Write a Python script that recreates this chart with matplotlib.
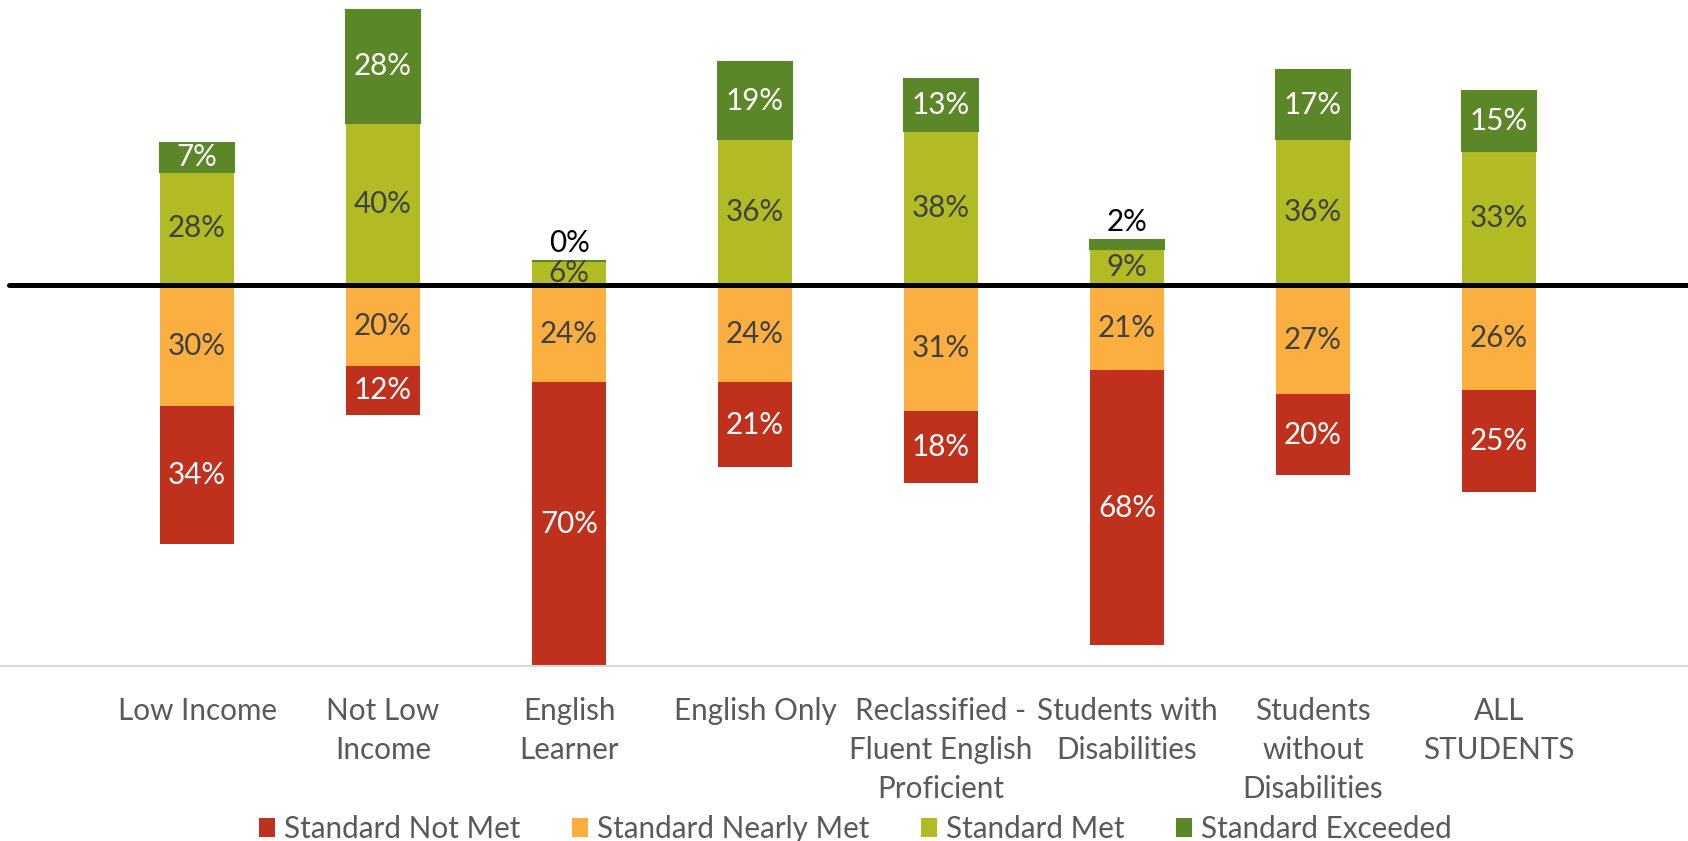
import numpy as np
import matplotlib
matplotlib.use('Agg')
import matplotlib.pyplot as plt
from matplotlib.patches import Patch

plt.rcParams['font.family'] = ['Lato', 'DejaVu Sans']

grupos = ['Low Income', 'Not Low\nIncome', 'English\nLearner', 'English Only',
          'Reclassified -\nFluent English\nProficient', 'Students with\nDisabilities',
          'Students\nwithout\nDisabilities', 'ALL\nSTUDENTS']
no_cumple = [34, 12, 70, 21, 18, 68, 20, 25]
casi_cumple = [30, 20, 24, 24, 31, 21, 27, 26]
cumple = [28, 40, 6, 36, 38, 9, 36, 33]
excede = [7, 28, 0, 19, 13, 2, 17, 15]

nombres = ['Standard Not Met', 'Standard Nearly Met', 'Standard Met', 'Standard Exceeded']
colores = ['#C0311D', '#FBAF40', '#B2BB23', '#5C8728']
colores_texto = ['white', '#404040', '#404040', 'white']

x = np.arange(len(grupos))
ancho = 0.403
tam = 21.3

fig = plt.figure(figsize=(16.88, 8.41), dpi=100)
ax = fig.add_axes([0, 1 - 666 / 841, 1, 666 / 841])

no_cumple = np.array(no_cumple)
casi_cumple = np.array(casi_cumple)
cumple = np.array(cumple)
excede = np.array(excede)

# below the line: nearly met next to zero, not met further down
ax.bar(x, -casi_cumple, ancho, color=colores[1], zorder=2)
ax.bar(x, -no_cumple, ancho, bottom=-casi_cumple, color=colores[0], zorder=2)
# above the line: met, then exceeded on top
ax.bar(x, cumple, ancho, color=colores[2], zorder=2)
ax.bar(x, excede, ancho, bottom=cumple, color=colores[3], edgecolor=colores[3],
       linewidth=1.5, zorder=2)

for i in range(len(grupos)):
    ax.text(x[i], -casi_cumple[i] / 2, f'{casi_cumple[i]}%', ha='center', va='center',
            fontsize=tam, color=colores_texto[1], zorder=3)
    ax.text(x[i], -casi_cumple[i] - no_cumple[i] / 2, f'{no_cumple[i]}%', ha='center',
            va='center', fontsize=tam, color=colores_texto[0], zorder=3)
    ax.text(x[i], cumple[i] / 2, f'{cumple[i]}%', ha='center', va='center',
            fontsize=tam, color=colores_texto[2], zorder=3)
    if excede[i] >= 5:
        ax.text(x[i], cumple[i] + excede[i] / 2, f'{excede[i]}%', ha='center',
                va='center', fontsize=tam, color=colores_texto[3], zorder=3)
    else:
        ax.annotate(f'{excede[i]}%', (x[i], cumple[i] + excede[i]), xytext=(0, 3),
                    textcoords='offset points', ha='center', va='bottom',
                    fontsize=tam, color='black', zorder=3)

ax.axhline(0, xmin=9 / 1688, xmax=1, color='black', linewidth=3.6,
           solid_capstyle='round', zorder=4)

ax.set_xlim(-197 / 186, (1688 - 197) / 186)
ax.set_ylim(-94.1, 70.4)
ax.set_xticks(x)
ax.set_xticklabels(grupos, fontsize=tam, color='#595959', linespacing=1.48)
ax.tick_params(axis='x', length=0, pad=22)
ax.set_yticks([])
for lado in ['top', 'left', 'right']:
    ax.spines[lado].set_visible(False)
ax.spines['bottom'].set_color('#D9D9D9')
ax.spines['bottom'].set_linewidth(1.5)

manejadores = [Patch(facecolor=c) for c in colores]
fig.legend(manejadores, nombres, ncol=4, loc='center',
           bbox_to_anchor=(0.5066, 1 - 829 / 841), frameon=False, fontsize=tam,
           labelcolor='#595959', handlelength=0.55, handleheight=0.65,
           handletextpad=0.29, columnspacing=1.75, borderpad=0, borderaxespad=0)

fig.savefig('out.png', dpi=100)
